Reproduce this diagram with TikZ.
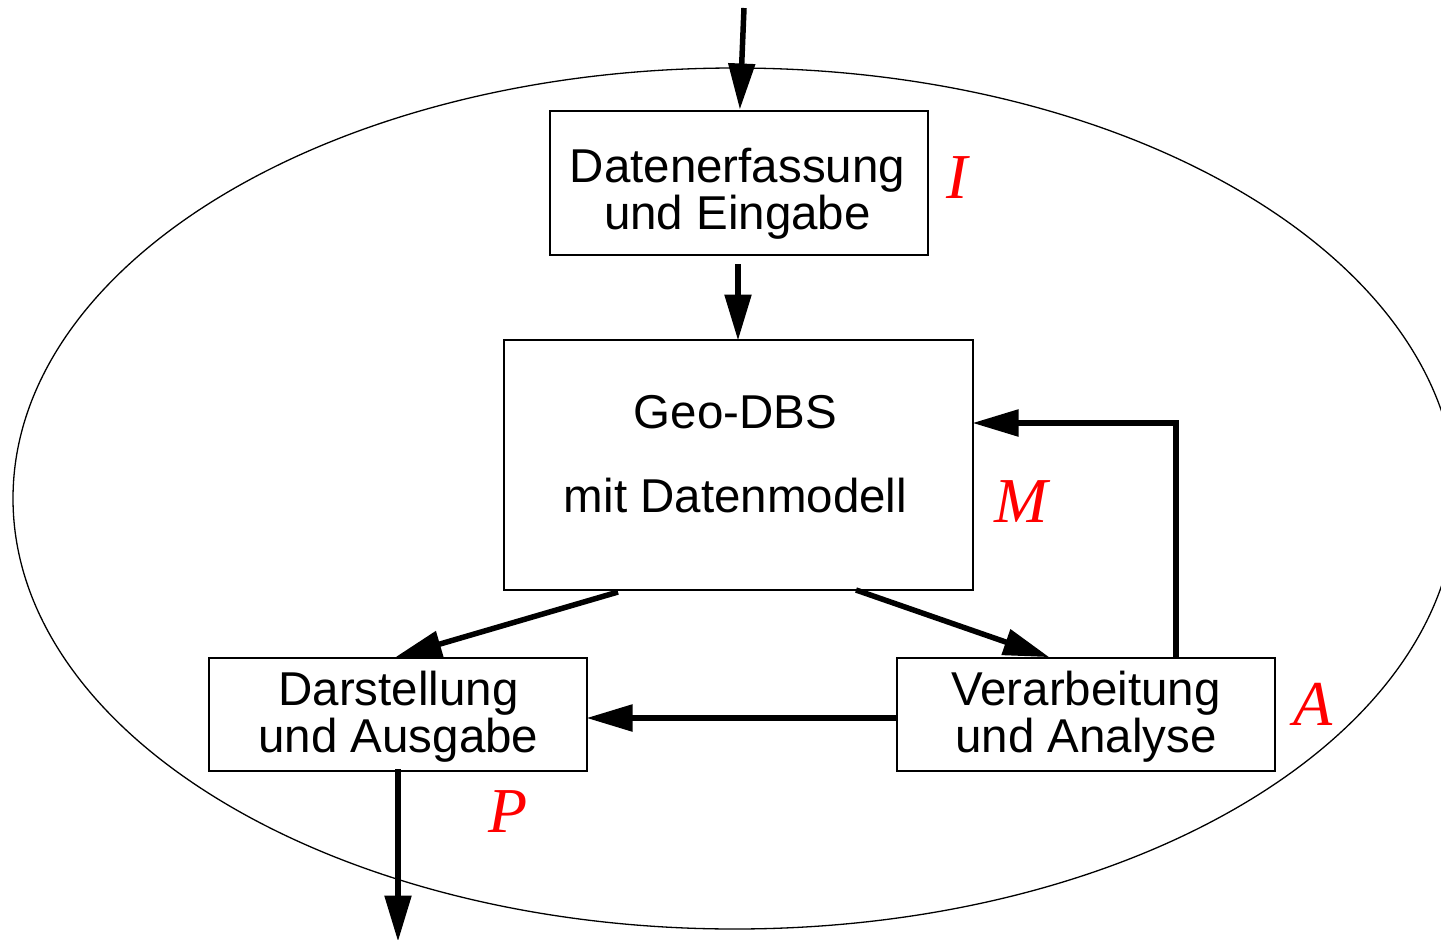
\documentclass[tikz,border=0pt]{standalone}
\usepackage{fontspec}
\setmainfont{Liberation Sans}
\newfontfamily\labelfont{Liberation Serif}
\usetikzlibrary{arrows.meta,calc}

\tikzset{
  box/.style={draw, line width=2pt, inner sep=0pt, rectangle},
  txt/.style={anchor=base, inner sep=0pt, font=\fontsize{47.5}{50}\selectfont},
  tag/.style={anchor=base, inner sep=0pt, text=red, font=\labelfont\itshape\fontsize{64}{66}\selectfont},
  arr/.style={line width=5.5pt, shorten >=-3.5pt, -{Triangle[length=46pt,width=26pt]}},
}

\begin{document}
\begin{tikzpicture}[x=1pt, y=-1pt]
\useasboundingbox (0,0) rectangle (1441,940);
\clip (0,0) rectangle (1441,940);

% system boundary
\draw[line width=1.3pt] (734.7,498.5) ellipse [x radius=721.7, y radius=430.5];

% components
\node[box, minimum width=378, minimum height=144] (inp) at (739,183) {};
\node[box, minimum width=469, minimum height=250] (db)  at (738.5,465) {};
\node[box, minimum width=378, minimum height=113] (out) at (398,714.5) {};
\node[box, minimum width=378, minimum height=113] (ana) at (1086,714.5) {};

% box texts
\node[txt] (inp-a) at (737.5,182) {Datenerfassung};
\node[txt] (inp-b) at (737.5,229) {und Eingabe};
\node[txt] (db-a)  at (735.5,428) {Geo-DBS};
\node[txt] (db-b)  at (735.5,512) {mit Datenmodell};
\node[txt] (out-a) at (398.5,705) {Darstellung};
\node[txt] (out-b) at (398.5,752) {und Ausgabe};
\node[txt] (ana-a) at (1086,705) {Verarbeitung};
\node[txt] (ana-b) at (1086,752) {und Analyse};

% phase letters
\node[tag] (tI) at (957,198) {I};
\node[tag] (tM) at (1021,522) {M};
\node[tag] (tA) at (1313,725) {A};
\node[tag] (tP) at (508,832) {P};

% data flow
\coordinate (src)  at (744,8);
\coordinate (sink) at (398,938);
\draw[arr] (src) -- ($(inp.north)+(1,-4)$);
\draw[arr] ($(inp.south)+(-1,8)$) -- ($(db.north)+(-0.5,-2)$);
\draw[arr] ($(db.south west)+(115,1)$) -- ($(out.north west)+(191,-1)$);
\draw[arr] ($(db.south west)+(353,-1)$) -- ($(ana.north west)+(150,-1)$);
\draw[arr] ($(ana.west)+(2,3.5)$) -- ($(out.east)+(2,3.5)$);
\draw[arr] ($(ana.north west)+(280,0)$) |- ($(db.east)+(2,-42)$);
\draw[arr] ($(out.south)+(0,-3)$) -- (sink);
\end{tikzpicture}
\end{document}
